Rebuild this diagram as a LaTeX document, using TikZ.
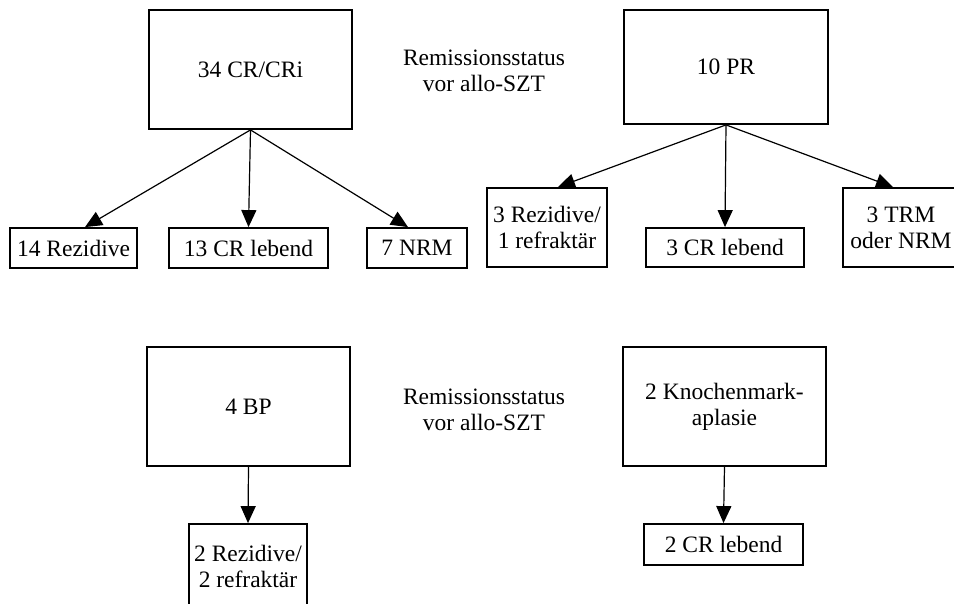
\documentclass[tikz,border=0pt]{standalone}
\usepackage{fontspec}
\setmainfont{Liberation Serif}
\usetikzlibrary{arrows.meta,positioning}
\tikzset{>={Triangle[length=17pt,width=15pt]}}

\begin{document}
\begin{tikzpicture}[x=1pt,y=-1pt,
                          txt/.style={font=\fontsize{23.5}{26}\selectfont, align=center, inner sep=0pt},
                          bigbox/.style={txt, draw, line width=1.8pt, minimum width=203pt, minimum height=119pt},
                          smallbox/.style={txt, draw, line width=1.8pt, minimum height=40pt},
                          myarrow/.style={line width=1.2pt, ->},
                         ]

\useasboundingbox (0,0) rectangle (954,603);

% top row
\node[bigbox] (cr) at (250.5,69.5) {34 CR/CRi};
\node[bigbox, minimum width=204pt, minimum height=114pt] (pr) at (726,67) {10 PR};
\node[txt] (status1) at (484,71) {Remissionsstatus\\vor allo-SZT};

\node[smallbox, minimum width=127pt] (rez1) at (73.5,248) {14 Rezidive};
\node[smallbox, minimum width=159pt] (crl1) at (248.5,248) {13 CR lebend};
\node[smallbox, minimum width=100pt] (nrm1) at (417,248) {7 NRM};

\node[smallbox, minimum width=120pt, minimum height=79pt] (rez2) at (547,227.5) {3 Rezidive/\\1 refraktär};
\node[smallbox, minimum width=158pt, minimum height=39pt] (crl2) at (725,247.5) {3 CR lebend};
\node[smallbox, minimum width=116pt, minimum height=79pt] (trm) at (901,227.5) {3 TRM\\oder NRM};

\draw[myarrow] (cr.south) -- ([xshift=11.5pt]rez1.north);
\draw[myarrow] (cr.south) -- (crl1.north);
\draw[myarrow] (cr.south) -- ([xshift=-9pt]nrm1.north);

\draw[myarrow] (pr.south) -- ([xshift=11pt]rez2.north);
\draw[myarrow] (pr.south) -- (crl2.north);
\draw[myarrow] (pr.south) -- ([xshift=-8pt]trm.north);

% bottom row
\node[bigbox] (bp) at (248.5,406.5) {4 BP};
\node[bigbox] (kma) at (724.5,406.5) {2 Knochenmark-\\aplasie};
\node[txt] (status2) at (484,410) {Remissionsstatus\\vor allo-SZT};

\node[smallbox, minimum width=118pt, minimum height=84pt] (rez3) at (248,566) {2 Rezidive/\\2 refraktär};
\node[smallbox, minimum width=159pt, minimum height=41pt] (crl3) at (723.5,544.5) {2 CR lebend};

\draw[myarrow] (bp.south) -- (rez3.north);
\draw[myarrow] (kma.south) -- (crl3.north);

\end{tikzpicture}
\end{document}
